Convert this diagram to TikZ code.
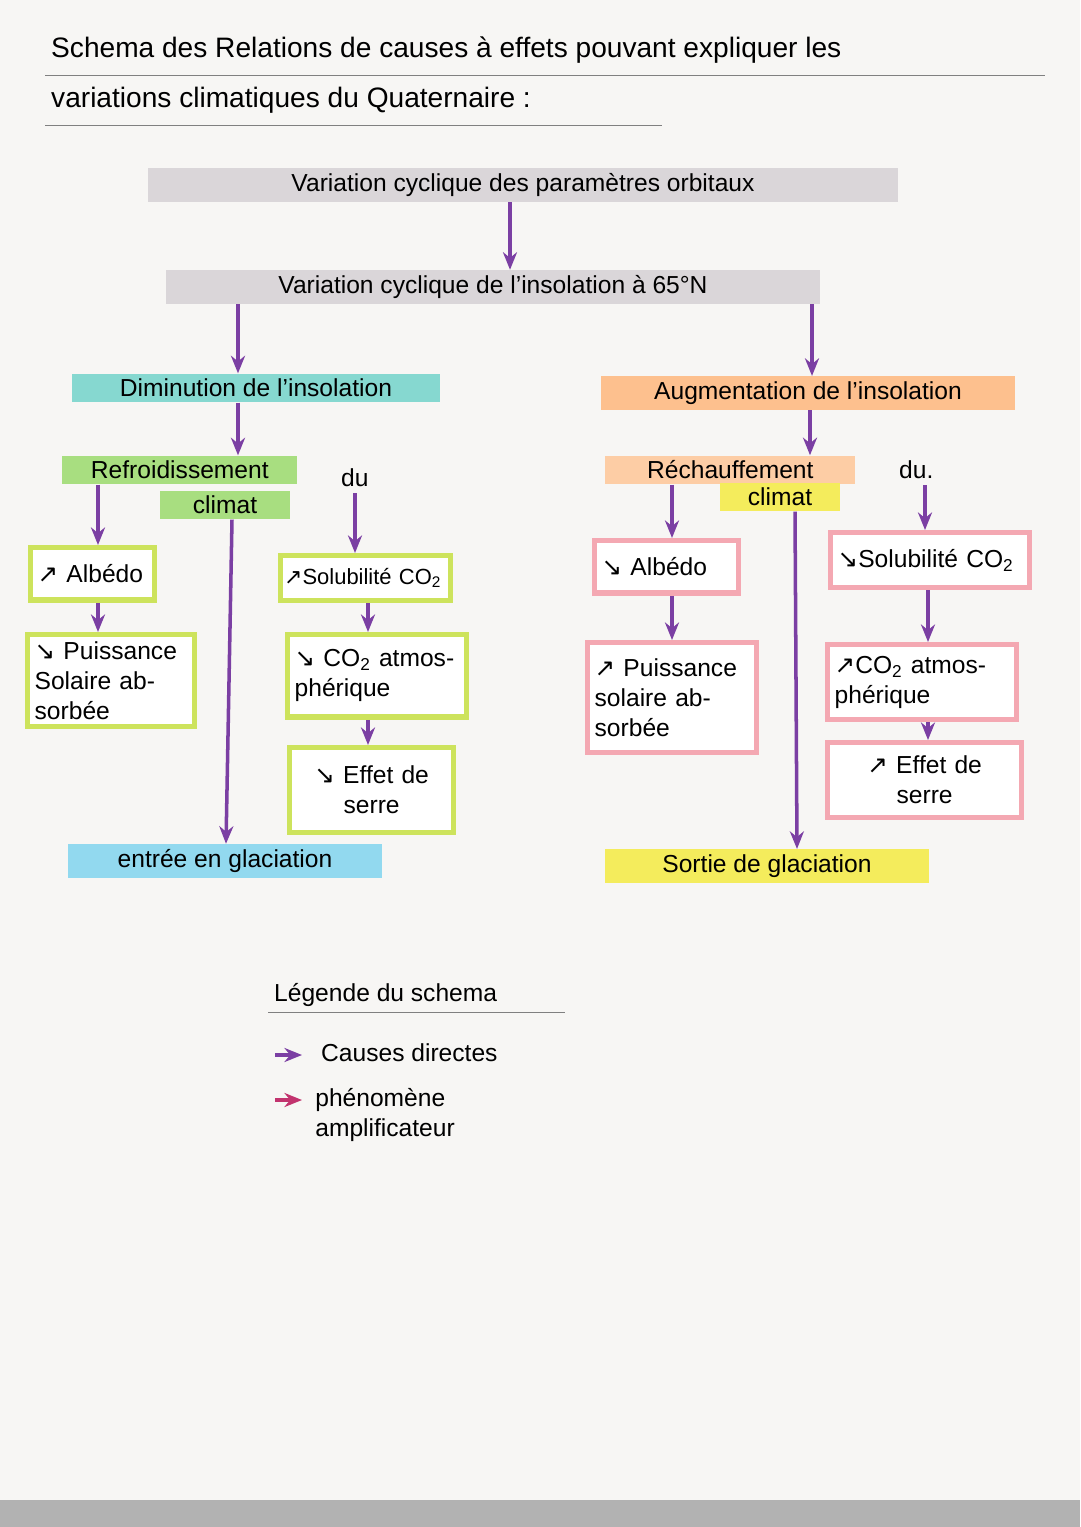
\documentclass[tikz,border=0pt]{standalone}
\usepackage{fontspec}
\setmainfont{Liberation Sans}
\newfontfamily\sym{DejaVu Sans}
\usetikzlibrary{arrows.meta}
\definecolor{paper}{HTML}{F7F6F4}
\definecolor{gris}{HTML}{DAD6D9}
\definecolor{turq}{HTML}{86D8D0}
\definecolor{orang}{HTML}{FDC08E}
\definecolor{vert}{HTML}{A8DE80}
\definecolor{jaune}{HTML}{F4EC5C}
\definecolor{lime}{HTML}{CDE35C}
\definecolor{rose}{HTML}{F4A8B2}
\definecolor{cyan2}{HTML}{92D9EF}
\definecolor{violet}{HTML}{7B3FA3}
\definecolor{framb}{HTML}{C2336E}
\newcommand{\up}{{\sym\char"2197}}
\newcommand{\dn}{{\sym\char"2198}}
\begin{document}
\begin{tikzpicture}[x=0.02cm,y=-0.02cm,
  every node/.style={font=\fontsize{14}{17}\selectfont},
  ar/.style={-{Stealth[length=10pt,width=8pt]},violet,line width=2pt},
  hl/.style={fill=#1,inner sep=3pt,minimum height=0.55cm},
  bx/.style={draw=#1,line width=3pt,fill=white,align=left,inner sep=4pt,anchor=north west}]
\fill[paper] (0,0) rectangle (1080,1527);
\useasboundingbox (0,0) rectangle (1080,1527);
\fill[gray!60] (0,1500) rectangle (1080,1527);

% titre
\node[anchor=west,font=\fontsize{16}{19}\selectfont] (t1) at (45,50) {Schema des Relations de causes à effets pouvant expliquer les};
\node[anchor=west,font=\fontsize{16}{19}\selectfont] (t2) at (45,100) {variations climatiques du Quaternaire :};
\draw[gray] (45,75) -- (1045,75);
\draw[gray] (45,125) -- (662,125);

% haut
\node[hl=gris,minimum width=15cm] (orb) at (523,185) {Variation cyclique des paramètres orbitaux};
\node[hl=gris,minimum width=13.1cm] (ins) at (493,287) {Variation cyclique de l'insolation à 65°N};
\node[hl=turq,minimum width=7.36cm] (dim) at (256,388) {Diminution de l'insolation};
\node[hl=orang,minimum width=8.3cm] (aug) at (808,393) {Augmentation de l'insolation};
\draw[ar] (orb.south -| 510,0) -- (ins.north -| 510,0);
\draw[ar] (ins.south -| 238,0) -- (dim.north -| 238,0);
\draw[ar] (ins.south -| 812,0) -- (aug.north -| 812,0);

% gauche
\node[hl=vert,minimum width=4.7cm,anchor=west] (refL) at (62,470) {Refroidissement};
\node[anchor=west] (duL) at (335,478) {du};
\node[hl=vert,minimum width=2.6cm] (clL) at (225,505) {climat};
\draw[ar] (dim.south -| 238,0) -- (refL.north -| 238,0);

\node[bx=lime,text width=2.2cm,minimum height=1.05cm] (albL) at (28,545) {\up\ Albédo};
\node[bx=lime,text width=3.05cm] (puiL) at (25,632) {\dn\ Puissance\\Solaire ab-\\ sorbée};
\node[bx=lime,text width=3.25cm,minimum height=0.9cm,inner sep=2pt,font=\fontsize{12.5}{15}\selectfont] (solL) at (278,553) {\up Solubilité CO\textsubscript{2}};
\node[bx=lime,text width=3.3cm,minimum height=1.65cm] (co2L) at (285,632) {\dn\ CO\textsubscript{2} atmos-\\phérique};
\node[bx=lime,text width=3.0cm,align=center,minimum height=1.7cm] (efL) at (287,745) {\dn\ Effet de\\serre};
\node[hl=cyan2,minimum width=6.3cm] (glaL) at (225,861) {entrée en glaciation};
\draw[ar] (refL.south -| 98,0) -- (albL.north -| 98,0);
\draw[ar] (albL.south -| 98,0) -- (puiL.north -| 98,0);
\draw[ar] (duL.south -| 355,0) -- (solL.north -| 355,0);
\draw[ar] (solL.south -| 368,0) -- (co2L.north -| 368,0);
\draw[ar] (co2L.south -| 368,0) -- (efL.north -| 368,0);
\draw[ar] (clL.south -| 232,0) -- (glaL.north -| 226,0);

% droite
\node[hl=orang!80,minimum width=5cm,anchor=west] (refR) at (605,470) {Réchauffement};
\node[anchor=west] (duR) at (893,470) {du.};
\node[hl=jaune,minimum width=2.4cm] (clR) at (780,497) {climat};
\draw[ar] (aug.south -| 810,0) -- (refR.north -| 810,0);

\node[bx=rose,text width=2.6cm,minimum height=1.05cm] (albR) at (592,538) {\dn\ Albédo};
\node[bx=rose,text width=3.1cm,minimum height=2.2cm] (puiR) at (585,640) {\up\ Puissance\\solaire ab-\\sorbée};
\node[bx=rose,text width=3.7cm,minimum height=1.1cm] (solR) at (828,530) {\dn Solubilité CO\textsubscript{2}};
\node[bx=rose,text width=3.5cm,minimum height=1.5cm] (co2R) at (825,642) {\up CO\textsubscript{2} atmos-\\phérique};
\node[bx=rose,text width=3.6cm,align=center,minimum height=1.5cm] (efR) at (825,740) {\up\ Effet de\\serre};
\node[hl=jaune,minimum width=6.5cm] (glaR) at (767,866) {Sortie de glaciation};
\draw[ar] (refR.south -| 672,0) -- (albR.north -| 672,0);
\draw[ar] (albR.south -| 672,0) -- (puiR.north -| 672,0);
\draw[ar] (duR.south -| 925,0) -- (solR.north -| 925,0);
\draw[ar] (solR.south -| 928,0) -- (co2R.north -| 928,0);
\draw[ar] (co2R.south -| 928,0) -- (efR.north -| 928,0);
\draw[ar] (clR.south -| 795,0) -- (glaR.north -| 797,0);

% legende
\node[anchor=west] (leg) at (268,995) {Légende du schema};
\draw[gray] (268,1012) -- (565,1012);
\coordinate (c1) at (275,1055);
\coordinate (c2) at (302,1055);
\coordinate (c3) at (275,1100);
\coordinate (c4) at (302,1100);
\draw[ar] (c1) -- (c2);
\node[anchor=west] (cd) at (315,1053) {Causes directes};
\draw[ar,framb] (c3) -- (c4);
\node[anchor=north west,align=left,inner sep=0pt] (amp) at (315,1088) {phénomène\\amplificateur};
\end{tikzpicture}
\end{document}
